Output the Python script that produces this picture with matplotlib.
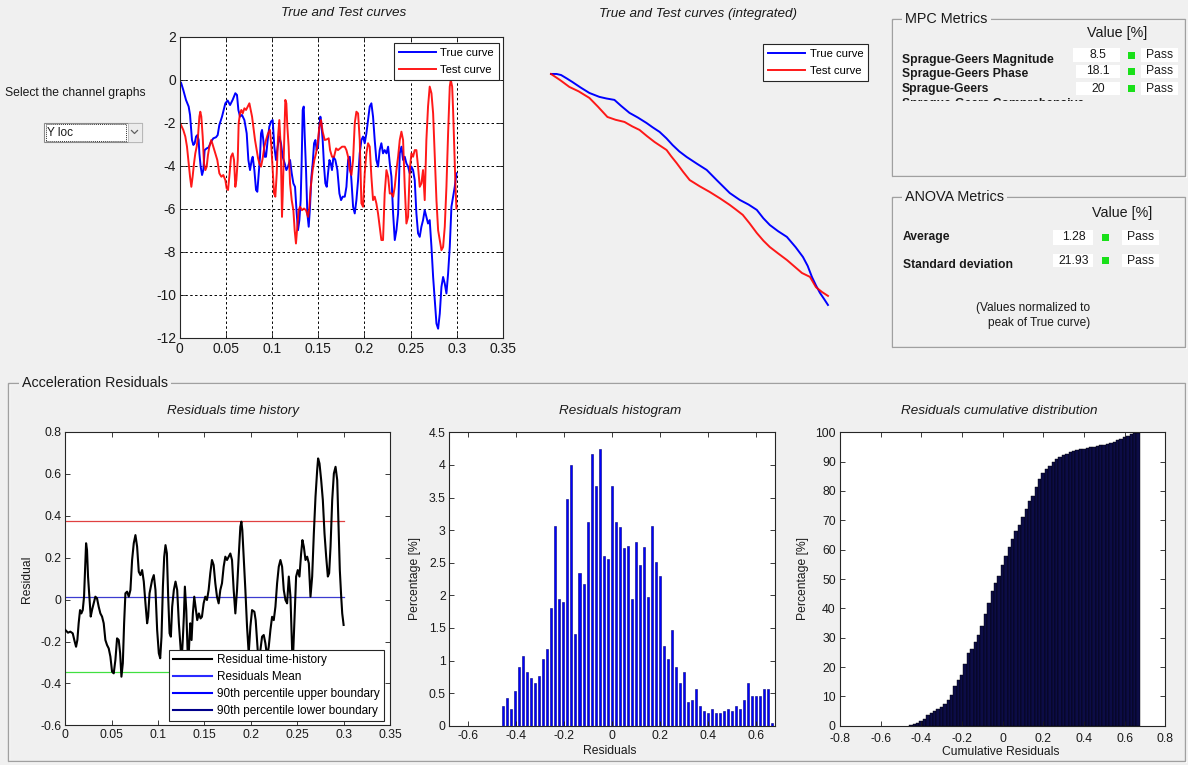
import numpy as np
import matplotlib
matplotlib.use('Agg')
import matplotlib.pyplot as plt
from matplotlib.patches import Rectangle
from matplotlib.lines import Line2D
from matplotlib import ticker

plt.rcParams['font.family'] = ['Liberation Sans', 'DejaVu Sans']
plt.rcParams['axes.unicode_minus'] = False

# ---------------- data ----------------
true_curve = [
    (0.0000, -0.08), (0.0016, -0.12), (0.0041, -0.47), (0.0070, -0.93), (0.0099, -1.24),
    (0.0114, -1.63), (0.0124, -2.18), (0.0135, -2.80), (0.0150, -3.03), (0.0164, -2.95),
    (0.0179, -2.64), (0.0193, -2.57), (0.0207, -2.80), (0.0215, -3.42), (0.0229, -4.04),
    (0.0244, -4.43), (0.0258, -4.20), (0.0272, -3.27), (0.0294, -3.19), (0.0316, -3.14),
    (0.0341, -2.88), (0.0366, -2.72), (0.0395, -2.67), (0.0413, -2.57), (0.0431, -2.10),
    (0.0460, -1.71), (0.0496, -1.09), (0.0521, -0.96), (0.0547, -1.17), (0.0575, -0.93),
    (0.0604, -0.62), (0.0622, -0.70), (0.0637, -1.40), (0.0655, -1.71), (0.0676, -1.63),
    (0.0702, -1.87), (0.0727, -2.49), (0.0745, -3.73), (0.0763, -4.20), (0.0781, -3.73),
    (0.0792, -3.58), (0.0810, -4.20), (0.0828, -5.13), (0.0842, -5.21), (0.0857, -4.35),
    (0.0871, -3.58), (0.0882, -2.49), (0.0893, -2.33), (0.0907, -2.80), (0.0922, -3.58),
    (0.0936, -3.58), (0.0954, -2.80), (0.0972, -2.18), (0.0990, -1.94), (0.1008, -1.87),
    (0.1026, -3.11), (0.1044, -3.73), (0.1062, -3.11), (0.1080, -2.64), (0.1098, -2.95),
    (0.1116, -3.58), (0.1138, -3.89), (0.1156, -4.20), (0.1174, -4.04), (0.1196, -3.73),
    (0.1214, -4.35), (0.1232, -4.82), (0.1250, -4.98), (0.1268, -6.22), (0.1282, -7.00),
    (0.1297, -6.53), (0.1311, -5.60), (0.1322, -3.73), (0.1333, -1.40), (0.1344, -1.24),
    (0.1355, -2.64), (0.1369, -4.20), (0.1383, -6.22), (0.1398, -6.84), (0.1412, -5.91),
    (0.1427, -4.51), (0.1441, -3.89), (0.1456, -2.95), (0.1470, -2.80), (0.1484, -3.27),
    (0.1499, -3.11), (0.1513, -2.18), (0.1524, -1.71), (0.1535, -2.02), (0.1549, -2.80),
    (0.1564, -4.04), (0.1578, -4.82), (0.1593, -4.98), (0.1607, -4.35), (0.1622, -3.73),
    (0.1636, -3.89), (0.1650, -4.20), (0.1665, -3.58), (0.1686, -3.73), (0.1708, -4.20),
    (0.1730, -5.29), (0.1748, -5.60), (0.1766, -5.44), (0.1788, -5.44), (0.1806, -4.98),
    (0.1824, -3.73), (0.1842, -3.58), (0.1860, -4.67), (0.1878, -5.91), (0.1896, -6.22),
    (0.1914, -5.60), (0.1932, -4.67), (0.1950, -3.42), (0.1968, -2.80), (0.1986, -2.64),
    (0.2004, -2.95), (0.2022, -2.49), (0.2040, -1.87), (0.2058, -1.24), (0.2076, -1.09),
    (0.2094, -1.71), (0.2112, -2.80), (0.2130, -3.73), (0.2148, -4.04), (0.2166, -3.27),
    (0.2184, -2.95), (0.2202, -3.42), (0.2220, -3.27), (0.2239, -3.42), (0.2257, -3.11),
    (0.2275, -3.89), (0.2293, -4.51), (0.2311, -6.22), (0.2329, -7.46), (0.2347, -7.00),
    (0.2365, -6.22), (0.2383, -3.42), (0.2401, -3.11), (0.2419, -3.73), (0.2437, -3.58),
    (0.2455, -3.89), (0.2473, -4.04), (0.2491, -4.35), (0.2509, -4.04), (0.2527, -4.20),
    (0.2545, -4.67), (0.2563, -6.22), (0.2581, -7.15), (0.2599, -7.31), (0.2617, -6.84),
    (0.2635, -6.53), (0.2653, -6.07), (0.2671, -6.38), (0.2689, -6.69), (0.2707, -6.53),
    (0.2726, -7.78), (0.2744, -9.18), (0.2762, -10.26), (0.2780, -11.35), (0.2798, -11.59),
    (0.2816, -10.89), (0.2834, -9.64), (0.2852, -9.18), (0.2870, -9.49), (0.2888, -9.95),
    (0.2906, -9.02), (0.2924, -7.78), (0.2942, -5.91), (0.2960, -5.44), (0.2978, -4.98),
    (0.2996, -4.35),
]

test_curve = [
    (0.0000, -1.94), (0.0016, -2.10), (0.0041, -2.33), (0.0063, -2.64), (0.0081, -3.11),
    (0.0099, -3.89), (0.0114, -4.51), (0.0128, -4.98), (0.0142, -4.51), (0.0157, -3.89),
    (0.0171, -3.42), (0.0186, -3.11), (0.0200, -2.64), (0.0215, -1.71), (0.0225, -1.48),
    (0.0236, -1.71), (0.0251, -2.64), (0.0265, -3.89), (0.0280, -4.20), (0.0294, -4.04),
    (0.0308, -3.50), (0.0323, -3.11), (0.0344, -2.80), (0.0366, -3.11), (0.0388, -3.42),
    (0.0409, -3.73), (0.0431, -4.35), (0.0453, -4.51), (0.0474, -4.43), (0.0496, -4.67),
    (0.0510, -5.05), (0.0525, -5.13), (0.0539, -4.51), (0.0557, -3.58), (0.0575, -3.42),
    (0.0590, -3.73), (0.0604, -4.98), (0.0615, -4.67), (0.0630, -3.73), (0.0640, -2.02),
    (0.0655, -1.56), (0.0669, -1.40), (0.0684, -1.56), (0.0702, -1.32), (0.0720, -1.40),
    (0.0738, -1.24), (0.0756, -1.09), (0.0770, -1.40), (0.0785, -1.71), (0.0799, -2.18),
    (0.0817, -2.80), (0.0835, -3.27), (0.0850, -3.65), (0.0864, -3.89), (0.0882, -4.04),
    (0.0900, -3.65), (0.0918, -3.11), (0.0936, -2.80), (0.0958, -2.49), (0.0979, -2.33),
    (0.0994, -3.11), (0.1008, -4.20), (0.1023, -5.29), (0.1037, -5.44), (0.1052, -4.35),
    (0.1066, -2.64), (0.1080, -1.87), (0.1095, -3.11), (0.1109, -6.38), (0.1116, -5.44),
    (0.1127, -3.73), (0.1138, -2.18), (0.1145, -0.93), (0.1156, -1.09), (0.1167, -2.18),
    (0.1181, -3.11), (0.1196, -4.82), (0.1214, -5.60), (0.1232, -6.07), (0.1246, -7.00),
    (0.1260, -7.62), (0.1275, -6.84), (0.1289, -6.07), (0.1304, -5.91), (0.1325, -6.07),
    (0.1347, -5.99), (0.1369, -6.07), (0.1391, -6.38), (0.1405, -5.91), (0.1420, -4.98),
    (0.1441, -4.20), (0.1459, -3.73), (0.1477, -3.42), (0.1495, -2.95), (0.1513, -2.18),
    (0.1531, -1.87), (0.1549, -2.41), (0.1571, -2.80), (0.1593, -2.77), (0.1614, -2.72),
    (0.1629, -3.27), (0.1650, -3.58), (0.1672, -3.58), (0.1694, -3.19), (0.1715, -3.27),
    (0.1737, -3.19), (0.1759, -3.11), (0.1788, -3.11), (0.1806, -3.27), (0.1824, -3.58),
    (0.1842, -4.20), (0.1860, -4.43), (0.1878, -3.73), (0.1896, -2.02), (0.1914, -1.48),
    (0.1932, -1.56), (0.1950, -2.80), (0.1968, -5.75), (0.1986, -5.91), (0.2004, -4.35),
    (0.2022, -3.42), (0.2040, -2.95), (0.2058, -3.11), (0.2076, -4.51), (0.2094, -5.60),
    (0.2112, -5.44), (0.2130, -5.75), (0.2148, -6.22), (0.2166, -6.84), (0.2184, -7.46),
    (0.2202, -7.46), (0.2220, -5.29), (0.2239, -4.20), (0.2257, -4.51), (0.2275, -5.29),
    (0.2293, -5.29), (0.2311, -5.44), (0.2329, -4.98), (0.2347, -4.20), (0.2365, -3.58),
    (0.2383, -2.80), (0.2401, -2.41), (0.2419, -2.80), (0.2437, -4.98), (0.2455, -6.69),
    (0.2473, -6.38), (0.2491, -4.20), (0.2509, -3.42), (0.2527, -3.58), (0.2545, -3.27),
    (0.2563, -3.27), (0.2581, -4.04), (0.2599, -4.98), (0.2617, -4.82), (0.2635, -4.20),
    (0.2653, -5.60), (0.2671, -2.80), (0.2689, -1.24), (0.2707, -0.31), (0.2726, -0.62),
    (0.2744, -1.56), (0.2762, -3.58), (0.2780, -5.60), (0.2798, -7.00), (0.2816, -7.46),
    (0.2834, -7.93), (0.2852, -7.78), (0.2870, -6.84), (0.2888, -4.98), (0.2906, -2.49),
    (0.2924, -0.31), (0.2935, 0.00), (0.2950, -0.31), (0.2960, -1.40), (0.2971, -2.95),
    (0.2986, -4.98), (0.2996, -5.99),
]

int_true_curve = [
    (0.0000, 0.000), (0.0060, 0.000), (0.0109, -0.006), (0.0170, -0.025), (0.0231, -0.045),
    (0.0320, -0.076), (0.0416, -0.107), (0.0524, -0.129), (0.0600, -0.138), (0.0687, -0.146),
    (0.0760, -0.180), (0.0850, -0.219), (0.0940, -0.245), (0.1035, -0.276), (0.1100, -0.300),
    (0.1176, -0.326), (0.1250, -0.362), (0.1317, -0.400), (0.1390, -0.436), (0.1469, -0.467),
    (0.1580, -0.505), (0.1686, -0.540), (0.1800, -0.600), (0.1936, -0.670), (0.2045, -0.709),
    (0.2140, -0.735), (0.2229, -0.765), (0.2300, -0.812), (0.2370, -0.850), (0.2460, -0.885),
    (0.2555, -0.917), (0.2650, -0.975), (0.2729, -1.030), (0.2780, -1.080), (0.2826, -1.142),
    (0.2870, -1.190), (0.2913, -1.232), (0.2960, -1.268), (0.3000, -1.300),
]
int_test_curve = [
    (0.0000, 0.000), (0.0100, -0.035), (0.0199, -0.073), (0.0300, -0.098), (0.0416, -0.135),
    (0.0510, -0.185), (0.0611, -0.242), (0.0700, -0.258), (0.0796, -0.270), (0.0880, -0.295),
    (0.0959, -0.315), (0.1040, -0.350), (0.1122, -0.383), (0.1252, -0.428), (0.1300, -0.462),
    (0.1360, -0.501), (0.1430, -0.550), (0.1502, -0.597), (0.1610, -0.632), (0.1719, -0.664),
    (0.1830, -0.700), (0.1936, -0.737), (0.2000, -0.762), (0.2077, -0.793), (0.2150, -0.840),
    (0.2229, -0.895), (0.2300, -0.938), (0.2370, -0.974), (0.2460, -1.010), (0.2555, -1.047),
    (0.2640, -1.085), (0.2718, -1.120), (0.2805, -1.142), (0.2870, -1.200), (0.2935, -1.227),
    (0.3000, -1.249),
]

residual_curve = [
    (0.0000, -0.145), (0.0029, -0.158), (0.0054, -0.153), (0.0080, -0.161), (0.0101, -0.200),
    (0.0116, -0.225), (0.0130, -0.193), (0.0144, -0.113), (0.0159, -0.050), (0.0173, -0.066),
    (0.0188, -0.050), (0.0202, 0.014), (0.0213, 0.141), (0.0224, 0.269), (0.0234, 0.237),
    (0.0245, 0.110), (0.0260, 0.014), (0.0274, -0.081), (0.0288, -0.050), (0.0306, -0.018),
    (0.0324, 0.014), (0.0342, 0.006), (0.0360, -0.034), (0.0378, -0.066), (0.0396, -0.081),
    (0.0414, -0.113), (0.0432, -0.193), (0.0450, -0.217), (0.0468, -0.233), (0.0486, -0.272),
    (0.0504, -0.344), (0.0522, -0.352), (0.0540, -0.288), (0.0558, -0.185), (0.0576, -0.193),
    (0.0591, -0.256), (0.0605, -0.368), (0.0620, -0.304), (0.0634, -0.113), (0.0648, 0.030),
    (0.0666, 0.038), (0.0684, 0.014), (0.0702, 0.046), (0.0720, 0.189), (0.0738, 0.269),
    (0.0756, 0.308), (0.0774, 0.253), (0.0792, 0.133), (0.0810, 0.117), (0.0828, 0.141),
    (0.0846, 0.086), (0.0864, -0.018), (0.0882, -0.113), (0.0893, -0.081), (0.0908, 0.030),
    (0.0922, 0.062), (0.0936, 0.094), (0.0954, 0.117), (0.0972, 0.046), (0.0990, -0.145),
    (0.1008, -0.256), (0.1023, -0.280), (0.1037, -0.177), (0.1052, 0.062), (0.1066, 0.204),
    (0.1080, 0.260), (0.1095, 0.221), (0.1109, 0.014), (0.1124, -0.161), (0.1138, -0.177),
    (0.1152, -0.034), (0.1170, 0.046), (0.1188, 0.086), (0.1206, 0.046), (0.1224, -0.113),
    (0.1242, -0.225), (0.1253, -0.304), (0.1268, -0.177), (0.1278, -0.081), (0.1289, 0.062),
    (0.1304, -0.050), (0.1318, -0.241), (0.1325, -0.320), (0.1339, -0.177), (0.1347, -0.113),
    (0.1361, -0.193), (0.1375, -0.066), (0.1390, 0.014), (0.1404, -0.034), (0.1422, -0.098),
    (0.1440, -0.066), (0.1458, -0.090), (0.1473, -0.082), (0.1491, -0.018), (0.1509, 0.014),
    (0.1527, -0.002), (0.1545, 0.046), (0.1563, 0.126), (0.1581, 0.189), (0.1599, 0.165),
    (0.1617, 0.078), (0.1635, 0.014), (0.1653, -0.018), (0.1671, 0.046), (0.1689, 0.078),
    (0.1707, 0.157), (0.1725, 0.205), (0.1743, 0.189), (0.1761, 0.205), (0.1779, 0.220),
    (0.1797, 0.189), (0.1815, 0.046), (0.1833, -0.066), (0.1851, 0.046), (0.1869, 0.205),
    (0.1887, 0.348), (0.1898, 0.372), (0.1908, 0.332), (0.1923, 0.205), (0.1941, 0.046),
    (0.1959, -0.129), (0.1977, -0.257), (0.1995, -0.129), (0.2013, -0.050), (0.2038, -0.058),
    (0.2052, -0.098), (0.2074, -0.241), (0.2088, -0.320), (0.2103, -0.241), (0.2121, -0.177),
    (0.2139, -0.169), (0.2157, -0.209), (0.2175, -0.272), (0.2193, -0.225), (0.2211, -0.145),
    (0.2229, -0.082), (0.2247, -0.098), (0.2265, -0.034), (0.2283, 0.078), (0.2301, 0.157),
    (0.2319, 0.189), (0.2337, 0.157), (0.2355, 0.046), (0.2373, -0.002), (0.2391, -0.018),
    (0.2409, 0.110), (0.2427, 0.014), (0.2445, -0.241), (0.2455, -0.272), (0.2470, -0.098),
    (0.2488, 0.110), (0.2506, 0.141), (0.2524, 0.110), (0.2542, 0.220), (0.2556, 0.284),
    (0.2571, 0.253), (0.2589, 0.189), (0.2607, 0.205), (0.2625, 0.173), (0.2643, 0.014),
    (0.2661, 0.110), (0.2679, 0.316), (0.2697, 0.491), (0.2715, 0.618), (0.2725, 0.674),
    (0.2740, 0.650), (0.2758, 0.571), (0.2776, 0.475), (0.2794, 0.316), (0.2812, 0.205),
    (0.2830, 0.110), (0.2844, 0.126), (0.2859, 0.253), (0.2877, 0.475), (0.2895, 0.602),
    (0.2913, 0.634), (0.2931, 0.571), (0.2945, 0.364), (0.2959, 0.141), (0.2974, 0.014),
    (0.2985, -0.066), (0.3000, -0.121),
]
residual_mean = 0.012
residual_upper = 0.375
residual_lower = -0.344

hist_first_center = -0.451
hist_last_center = 0.666
hist_percent = [
    0.30, 0.43, 0.26, 0.53, 0.90, 1.07, 0.83, 0.73, 0.66, 0.76,
    1.03, 1.18, 1.80, 3.06, 1.94, 1.90, 3.48, 4.00, 1.40, 2.34,
    2.17, 3.13, 4.17, 3.68, 4.24, 2.61, 2.56, 3.68, 3.13, 3.04,
    2.73, 2.76, 1.94, 2.81, 2.46, 2.74, 1.97, 3.06, 2.51, 2.29,
    1.22, 1.03, 1.47, 0.90, 0.65, 0.82, 0.36, 0.40, 0.56, 0.30,
    0.23, 0.20, 0.26, 0.20, 0.20, 0.23, 0.26, 0.23, 0.30, 0.26,
    0.40, 0.65, 0.45, 0.45, 0.45, 0.56, 0.56, 0.04,
]

mpc_labels = ['Sprague-Geers Magnitude', 'Sprague-Geers Phase', 'Sprague-Geers']
mpc_values = ['8.5', '18.1', '20']
mpc_status = ['Pass', 'Pass', 'Pass']
anova_labels = ['Average', 'Standard deviation']
anova_values = ['1.28', '21.93']
anova_status = ['Pass', 'Pass']

# ---------------- figure helpers ----------------
W, H = 1188, 765
BG = '#f0f0f0'
TXT = '#1a1a1a'
fig = plt.figure(figsize=(W / 100, H / 100), dpi=100, facecolor=BG)


def fx(px):
    return px / W


def fy(py):
    return 1 - py / H


def ax_rect(l, t, r, b):
    return [fx(l), fy(b), (r - l) / W, (b - t) / H]


def fig_rect(l, t, r, b, **kw):
    p = Rectangle((fx(l), fy(b)), (r - l) / W, (b - t) / H, transform=fig.transFigure, **kw)
    fig.add_artist(p)
    return p


def gfmt(v, pos=None):
    return f'{round(v, 6) + 0:g}'


def style_axes(ax, fs, xpad=3, ypad=2.5):
    ax.tick_params(direction='in', top=True, right=True, length=3.5, width=0.6,
                   labelsize=fs, colors=TXT)
    ax.tick_params(axis='x', pad=xpad)
    ax.tick_params(axis='y', pad=ypad)
    for s in ax.spines.values():
        s.set_linewidth(0.8)
        s.set_color('#262626')
    ax.xaxis.set_major_formatter(ticker.FuncFormatter(gfmt))
    ax.yaxis.set_major_formatter(ticker.FuncFormatter(gfmt))


leg_kw = dict(fontsize=8.1, frameon=True, fancybox=False, edgecolor='#262626', framealpha=1,
              borderpad=0.45, labelspacing=0.6, handlelength=3.3, handletextpad=0.4,
              borderaxespad=0)

# ---------------- top left: True and Test curves ----------------
true_t, true_y = zip(*true_curve)
test_t, test_y = zip(*test_curve)
ax1 = fig.add_axes(ax_rect(179.5, 37, 503, 337.5))
l_true, = ax1.plot(true_t, true_y, color='#0000ff', lw=1.4, label='True curve')
l_test, = ax1.plot(test_t, test_y, color='#ff0000', lw=1.4, alpha=0.9, label='Test curve')
ax1.set_xlim(0, 0.35)
ax1.set_ylim(-12, 2)
ax1.set_xticks(np.arange(0, 0.351, 0.05))
ax1.set_yticks(np.arange(-12, 2.1, 2))
style_axes(ax1, 10)
ax1.grid(True, linestyle=(0, (2.5, 2.5)), color='black', lw=0.7)
lg1 = ax1.legend(loc='upper right', bbox_to_anchor=(0.9876, 0.98), **leg_kw)
lg1.get_frame().set_linewidth(0.8)
fig.text(fx(344), fy(13), 'True and Test curves', fontsize=9.7, style='italic',
         ha='center', va='center', color=TXT)

# ---------------- top middle: integrated curves (no axes) ----------------
it_t, it_y = zip(*int_true_curve)
is_t, is_y = zip(*int_test_curve)
ax2 = fig.add_axes(ax_rect(536, 37, 860, 338))
ax2.axis('off')
l2a, = ax2.plot(it_t, it_y, color='#0000ff', lw=1.4)
l2b, = ax2.plot(is_t, is_y, color='#ff0000', lw=1.4, alpha=0.9)
ax2.set_xlim(-0.01625, 0.3347)
ax2.set_ylim(-1.486, 0.208)
lg2 = fig.legend([l2a, l2b], ['True curve', 'Test curve'], loc='upper left',
                 bbox_to_anchor=(fx(763), fy(44)), bbox_transform=fig.transFigure, **leg_kw)
lg2.get_frame().set_linewidth(0.8)
fig.text(fx(698), fy(14), 'True and Test curves (integrated)', fontsize=9.7, style='italic',
         ha='center', va='center', color=TXT)

# ---------------- channel selector ----------------
fig.text(fx(5), fy(93), 'Select the channel graphs', fontsize=8.7, ha='left', va='center', color=TXT)
fig_rect(44, 123, 142, 142, facecolor='white', edgecolor='#8a8a8a', lw=0.8)
fig_rect(127.5, 123.5, 141.5, 141.5, facecolor='#ececec', edgecolor='#b8b8b8', lw=0.6)
fig_rect(45.5, 124.5, 126, 140.5, fill=False, edgecolor='#333333', lw=0.7, linestyle=(0, (1, 1)))
fig.add_artist(Line2D([fx(131.5), fx(134.5), fx(137.5)], [fy(130.5), fy(133.5), fy(130.5)],
                      transform=fig.transFigure, color='#606060', lw=0.9))
fig.text(fx(47), fy(132.5), 'Y loc', fontsize=8.5, ha='left', va='center', color=TXT)


# ---------------- panels ----------------
def panel(l, t, r, b, title, tx, fs):
    fig_rect(l + 1, t + 1, r + 1, b + 1, fill=False, edgecolor='white', lw=1)
    fig_rect(l, t, r, b, fill=False, edgecolor='#a0a0a0', lw=1)
    fig.text(fx(tx), fy(t), title, fontsize=fs, ha='left', va='center', color=TXT,
             bbox=dict(facecolor=BG, edgecolor='none', pad=2.5))


panel(892, 19, 1185, 176, 'MPC Metrics', 905, 10.4)
panel(892, 197, 1185, 347, 'ANOVA Metrics', 905, 10.4)
panel(8, 383, 1185, 761, 'Acceleration Residuals', 22, 10.3)

GREEN = '#19e019'

# MPC metrics contents
fig.text(fx(1117), fy(33), 'Value [%]', fontsize=10.3, ha='center', va='center', color=TXT)
mpc_label_y = [60, 74, 89]
mpc_box_y = [(48, 62), (65, 78), (82, 95)]
mpc_box_x = [(1073, 1120), (1076, 1120), (1076, 1120)]
for i in range(len(mpc_labels)):
    fig.text(fx(902), fy(mpc_label_y[i]), mpc_labels[i], fontsize=8.7, fontweight='bold',
             ha='left', va='center', color=TXT)
    t0, b0 = mpc_box_y[i]
    x0, x1 = mpc_box_x[i]
    yc = (t0 + b0) / 2
    fig_rect(x0, t0, x1, b0, facecolor='white', edgecolor='none')
    fig.text(fx(1098), fy(yc), mpc_values[i], fontsize=8.7, ha='center', va='center', color=TXT)
    fig_rect(1128, yc - 3.5, 1135, yc + 3.5, facecolor=GREEN, edgecolor='none')
    fig_rect(1141, t0, 1178, b0, facecolor='white', edgecolor='none')
    fig.text(fx(1160), fy(yc), mpc_status[i], fontsize=8.7, ha='center', va='center', color=TXT)
# partially hidden fourth row label (only the top sliver shows in the reference)
hidden = fig.text(fx(902), fy(103.5), 'Sprague-Geers Comprehensive', fontsize=8.7,
                  fontweight='bold', ha='left', va='center', color=TXT)
clip = Rectangle((fx(892), fy(101)), 200 / W, 4 / H, transform=fig.transFigure)
hidden.set_clip_path(clip)

# ANOVA contents
fig.text(fx(1122), fy(213), 'Value [%]', fontsize=10.3, ha='center', va='center', color=TXT)
anova_label_y = [237, 265]
anova_box_y = [(230, 245), (254, 267)]
for i in range(len(anova_labels)):
    fig.text(fx(903), fy(anova_label_y[i]), anova_labels[i], fontsize=8.7, fontweight='bold',
             ha='left', va='center', color=TXT)
    t0, b0 = anova_box_y[i]
    yc = (t0 + b0) / 2
    fig_rect(1053, t0, 1093, b0, facecolor='white', edgecolor='none')
    fig.text(fx(1074), fy(yc), anova_values[i], fontsize=8.7, ha='center', va='center', color=TXT)
    fig_rect(1102, yc - 3.5, 1109, yc + 3.5, facecolor=GREEN, edgecolor='none')
    fig_rect(1122, t0, 1159, b0, facecolor='white', edgecolor='none')
    fig.text(fx(1141), fy(yc), anova_status[i], fontsize=8.7, ha='center', va='center', color=TXT)
fig.text(fx(976), fy(308), '(Values normalized to', fontsize=8.6, ha='left', va='center', color=TXT)
fig.text(fx(988), fy(323), 'peak of True curve)', fontsize=8.6, ha='left', va='center', color=TXT)

# ---------------- residuals time history ----------------
res_t, res_y = zip(*residual_curve)
ax3 = fig.add_axes(ax_rect(65.3, 432, 390, 725.3))
ax3.plot(res_t, res_y, color='black', lw=1.5, zorder=3)
t_span = [res_t[0], res_t[-1]]
ax3.plot(t_span, [residual_upper] * 2, color='#e04040', lw=0.9, zorder=2)
ax3.plot(t_span, [residual_mean] * 2, color='#3c3cd0', lw=0.9, zorder=2)
ax3.plot(t_span, [residual_lower] * 2, color='#40e040', lw=0.9, zorder=2)
ax3.set_xlim(0, 0.35)
ax3.set_ylim(-0.6, 0.8)
ax3.set_xticks(np.arange(0, 0.351, 0.05))
ax3.set_yticks(np.arange(-0.6, 0.81, 0.2))
style_axes(ax3, 8.8)
res_handles = [Line2D([], [], color='black', lw=1.5), Line2D([], [], color='#2a2aff', lw=1.5),
               Line2D([], [], color='#0000ff', lw=1.5), Line2D([], [], color='#00008b', lw=1.5)]
res_labels = ['Residual time-history', 'Residuals Mean', '90th percentile upper boundary',
              '90th percentile lower boundary']
kw3 = dict(leg_kw)
kw3.update(fontsize=8.5, labelspacing=0.42, borderpad=0.35)
lg3 = ax3.legend(res_handles, res_labels, loc='upper left', bbox_to_anchor=(0.3194, 0.2567), **kw3)
lg3.get_frame().set_linewidth(0.8)
lg3.set_zorder(10)
fig.text(fx(233), fy(411), 'Residuals time history', fontsize=9.7, style='italic',
         ha='center', va='center', color=TXT)
fig.text(fx(27), fy(579), 'Residual', fontsize=8.7, rotation=90, ha='center', va='center', color=TXT)

# ---------------- residuals histogram ----------------
centers = np.linspace(hist_first_center, hist_last_center, len(hist_percent))
bin_w = centers[1] - centers[0]
ax4 = fig.add_axes(ax_rect(449.3, 432.3, 774.7, 725.7))
ax4.bar(centers, hist_percent, width=bin_w * 0.5, color='#0000ff', edgecolor='#00007a', lw=0.4)
ax4.set_xlim(-0.676, 0.678)
ax4.set_ylim(0, 4.5)
ax4.set_xticks(np.arange(-0.6, 0.61, 0.2))
ax4.set_yticks(np.arange(0, 4.51, 0.5))
style_axes(ax4, 8.8)
fig.text(fx(620), fy(411), 'Residuals histogram', fontsize=9.7, style='italic',
         ha='center', va='center', color=TXT)
fig.text(fx(610), fy(751), 'Residuals', fontsize=8.7, ha='center', va='center', color=TXT)
fig.text(fx(415), fy(578), 'Percentage [%]', fontsize=8.7, rotation=90, ha='center', va='center', color=TXT)

# ---------------- cumulative distribution ----------------
ax5 = fig.add_axes(ax_rect(840, 432.3, 1165.3, 725.7))
ax5.bar(centers, np.cumsum(hist_percent), width=bin_w, color='#0c0c46', edgecolor='#000000', lw=0.3)
ax5.set_xlim(-0.8, 0.8)
ax5.set_ylim(0, 100)
ax5.set_xticks(np.arange(-0.8, 0.81, 0.2))
ax5.set_yticks(np.arange(0, 101, 10))
style_axes(ax5, 8.8, xpad=5, ypad=3)
fig.text(fx(999), fy(411), 'Residuals cumulative distribution', fontsize=9.7, style='italic',
         ha='center', va='center', color=TXT)
fig.text(fx(1001), fy(752), 'Cumulative Residuals', fontsize=8.7, ha='center', va='center', color=TXT)
fig.text(fx(803), fy(578), 'Percentage [%]', fontsize=8.7, rotation=90, ha='center', va='center', color=TXT)

fig.savefig('out.png', dpi=100, facecolor=BG)
